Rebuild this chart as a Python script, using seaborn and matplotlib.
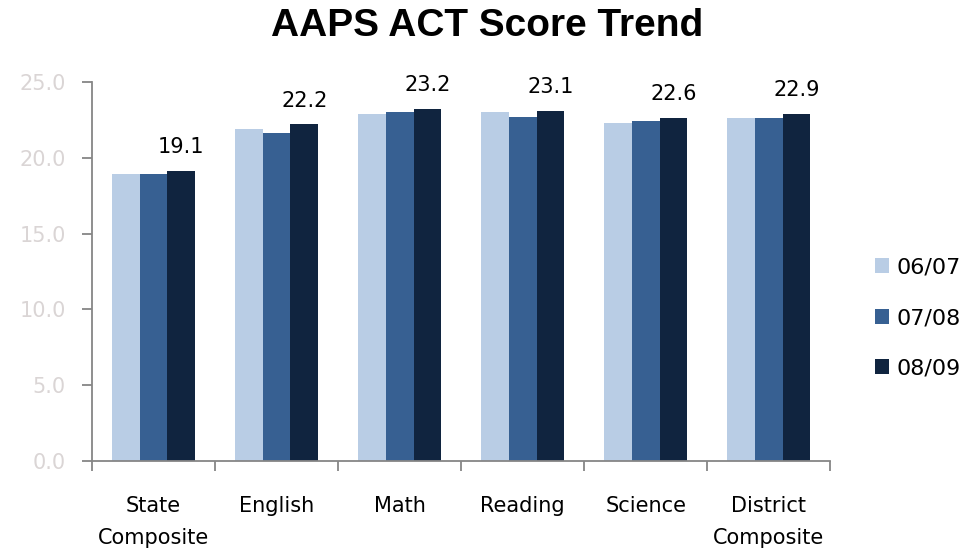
import matplotlib
matplotlib.use('Agg')
import matplotlib.pyplot as plt
import pandas as pd
import seaborn as sns

# Chart data
categories = ['State\nComposite', 'English', 'Math', 'Reading', 'Science', 'District\nComposite']
years = ['06/07', '07/08', '08/09']
scores_0607 = [18.9, 21.9, 22.9, 23.0, 22.3, 22.6]
scores_0708 = [18.9, 21.6, 23.0, 22.7, 22.4, 22.6]
scores_0809 = [19.1, 22.2, 23.2, 23.1, 22.6, 22.9]
y_ticks = [0, 5, 10, 15, 20, 25]

colors = ['#B9CDE5', '#376092', '#10243F']

df = pd.DataFrame({
    'Subject': categories * 3,
    'Year': [y for y in years for _ in categories],
    'Score': scores_0607 + scores_0708 + scores_0809,
})

sns.set_style('white')
plt.rcParams['font.family'] = ['DejaVu Sans']

fig = plt.figure(figsize=(9.74, 5.5), dpi=100)
ax = fig.add_axes([0.0945, 0.162, 0.758, 0.689])

sns.barplot(data=df, x='Subject', y='Score', hue='Year', palette=colors,
            width=0.675, gap=0, ax=ax, legend=True, saturation=1,
            linewidth=0)

# Label only the latest year
ax.bar_label(ax.containers[2], fmt='%.1f', padding=10, fontsize=15, color='black')

ax.set_ylim(0, 25)
ax.set_xlim(-0.5, 5.5)
ax.set_yticks(y_ticks)
ax.set_yticklabels([f'{v:.1f}' for v in y_ticks], fontsize=15, color='#DAD5D5')
ax.set_xlabel('')
ax.set_ylabel('')
for lbl in ax.get_xticklabels():
    lbl.set_linespacing(1.75)
ax.tick_params(axis='x', which='major', length=0, labelsize=15, pad=25, labelcolor='black')
ax.set_xticks([i - 0.5 for i in range(len(categories) + 1)], minor=True)
ax.tick_params(axis='x', which='minor', length=7, color='#868686', width=1.3, direction='out')
ax.tick_params(axis='y', length=7, color='#868686', width=1.3, direction='out', pad=12)
ax.xaxis.set_ticks_position('bottom')
ax.yaxis.set_ticks_position('left')

for s in ['top', 'right']:
    ax.spines[s].set_visible(False)
for s in ['left', 'bottom']:
    ax.spines[s].set_color('#868686')
    ax.spines[s].set_linewidth(1.3)

leg = ax.legend(loc='center left', bbox_to_anchor=(1.033, 0.377), frameon=False,
                fontsize=16, labelspacing=1.38, handlelength=0.65, handleheight=0.65,
                handletextpad=0.35)
for t in leg.get_texts():
    t.set_color('black')

fig.text(0.5, 0.953, 'AAPS ACT Score Trend', ha='center', va='center',
         fontsize=28, fontweight='bold', family='Liberation Sans', color='black')

fig.savefig('out.png', dpi=100)
